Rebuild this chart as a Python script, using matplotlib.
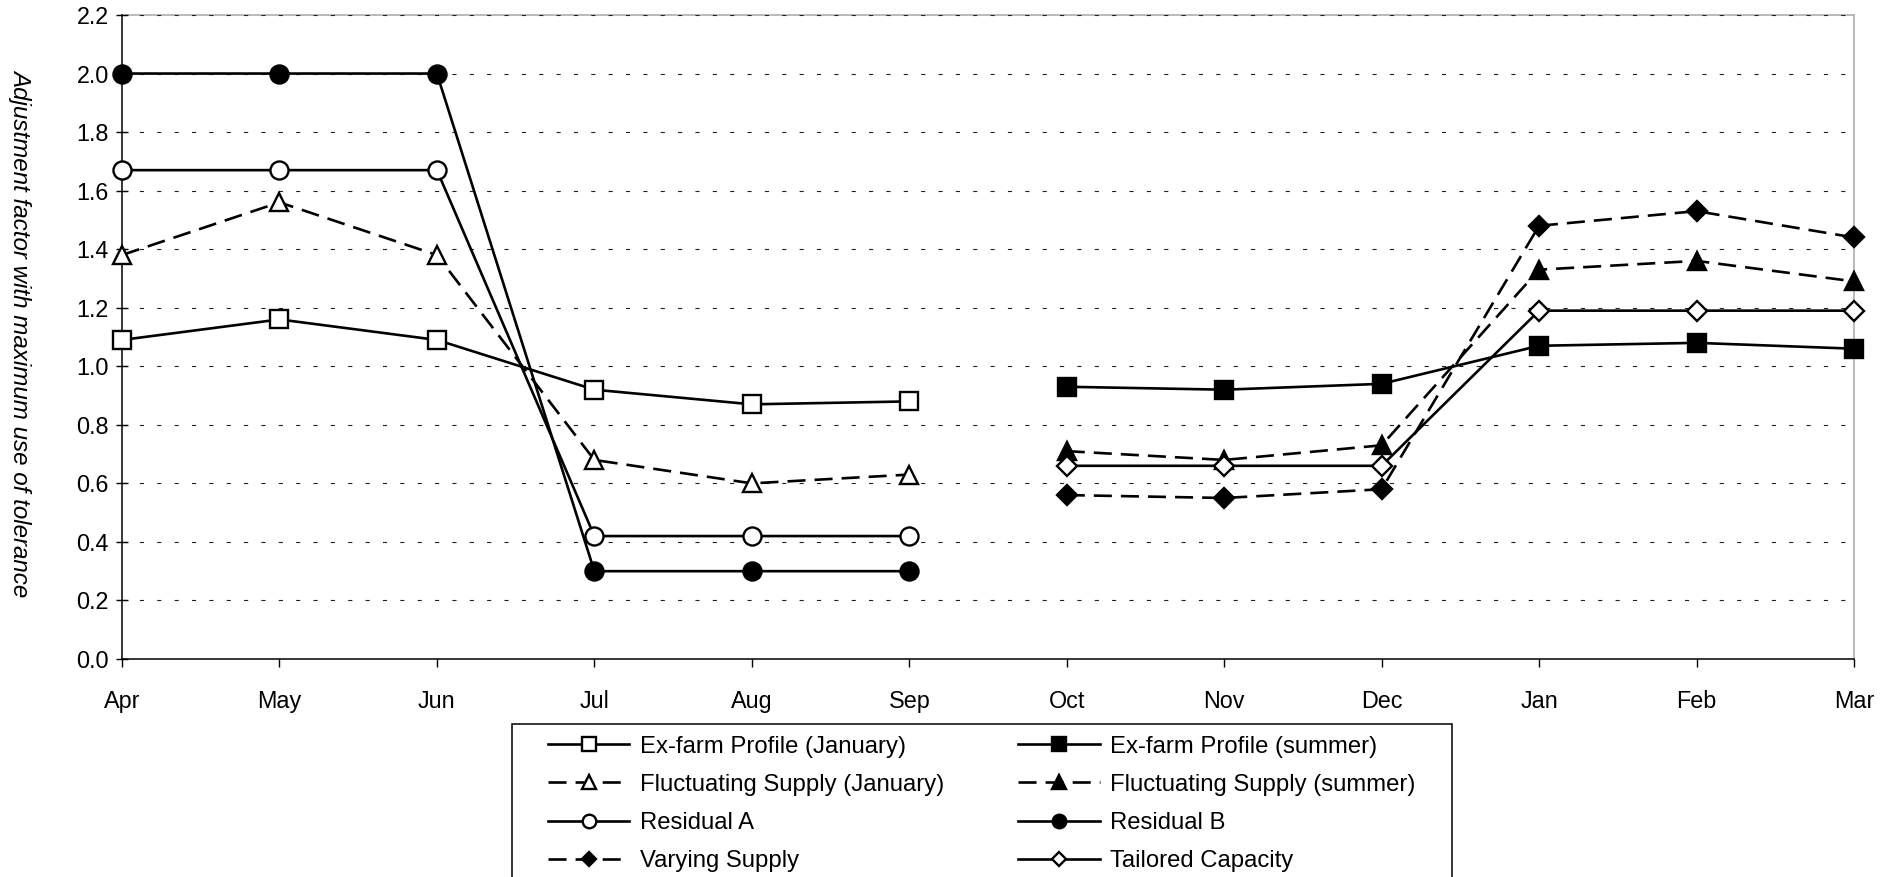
import numpy as np
import matplotlib
matplotlib.use("Agg")
import matplotlib.pyplot as plt
from matplotlib.patches import Rectangle

plt.rcParams['font.family'] = ['Liberation Sans', 'DejaVu Sans']
plt.rcParams['lines.scale_dashes'] = False

# months of the gas year, Apr .. Mar
months = ['Apr', 'May', 'Jun', 'Jul', 'Aug', 'Sep',
          'Oct', 'Nov', 'Dec', 'Jan', 'Feb', 'Mar']

# Apr - Sep series
exfarm_jan = [1.09, 1.16, 1.09, 0.92, 0.87, 0.88]
fluct_jan = [1.38, 1.56, 1.38, 0.68, 0.60, 0.63]
residual_a = [1.67, 1.67, 1.67, 0.42, 0.42, 0.42]
residual_b = [2.00, 2.00, 2.00, 0.30, 0.30, 0.30]

# Oct - Mar series
exfarm_summer = [0.93, 0.92, 0.94, 1.07, 1.08, 1.06]
fluct_summer = [0.71, 0.68, 0.73, 1.33, 1.36, 1.29]
varying = [0.56, 0.55, 0.58, 1.48, 1.53, 1.44]
tailored = [0.66, 0.66, 0.66, 1.19, 1.19, 1.19]

W, H = 1899, 877
fig = plt.figure(figsize=(W / 100, H / 100), dpi=100)
ax = fig.add_axes([122 / W, 1 - 659 / H, (1854 - 122) / W, (659 - 15) / H])

x = np.arange(len(months))
x1, x2 = x[:6], x[6:]

solid = '-'
dashed = (0, (13, 6.5))
lw = 1.9
mew = 1.7

series = [
    # label, x, y, linestyle, marker, facecolor, size
    ('Ex-farm Profile (January)', x1, exfarm_jan, solid, 's', 'white', 13),
    ('Fluctuating Supply (January)', x1, fluct_jan, dashed, '^', 'white', 13),
    ('Residual A', x1, residual_a, solid, 'o', 'white', 13),
    ('Varying Supply', x2, varying, dashed, 'D', 'black', 9.8),
    ('Ex-farm Profile (summer)', x2, exfarm_summer, solid, 's', 'black', 13.5),
    ('Fluctuating Supply (summer)', x2, fluct_summer, dashed, '^', 'black', 13),
    ('Residual B', x1, residual_b, solid, 'o', 'black', 13),
    ('Tailored Capacity', x2, tailored, solid, 'D', 'white', 9.8),
]

handles = []
for label, xs, ys, ls, mk, fc, ms in series:
    ln, = ax.plot(xs, ys, color='black', linestyle=ls, linewidth=lw,
                  marker=mk, markersize=ms, markerfacecolor=fc,
                  markeredgecolor='black', markeredgewidth=mew,
                  label=label, clip_on=False, zorder=3)
    handles.append(ln)

ax.set_xlim(0, 11)
ax.set_ylim(0, 2.2)
ax.set_xticks(x)
ax.set_xticklabels(months)
ax.set_yticks(np.arange(0, 2.21, 0.2))
ax.set_yticklabels([f'{v:.1f}' for v in np.arange(0, 2.21, 0.2)])

ax.yaxis.grid(True, color='#222222', linewidth=0.8, linestyle=(0, (3, 9.5)))
ax.set_axisbelow(True)

for side in ('left', 'bottom'):
    ax.spines[side].set_color('black')
    ax.spines[side].set_linewidth(1.1)
for side in ('top', 'right'):
    ax.spines[side].set_color('#b4b4b4')
    ax.spines[side].set_linewidth(1.3)
    ax.spines[side].set_zorder(0.5)

ax.tick_params(axis='y', direction='inout', length=9, width=1.0,
               labelsize=16.8, pad=5)
ax.tick_params(axis='x', direction='out', length=6, width=1.0,
               labelsize=16.8, pad=16)

fig.text(20.6 / W, 1 - 333 / H, 'Adjustment factor with maximum use of tolerance',
         rotation=-90, ha='center', va='center', style='italic', fontsize=17.4)

# legend frame runs off the bottom of the figure
fig.patches.append(Rectangle((512 / W, -0.02), (1452 - 512) / W, 1 - 724 / H + 0.02,
                             transform=fig.transFigure, fill=False,
                             edgecolor='black', linewidth=1.1))
leg = fig.legend(handles=handles, ncol=2, loc='upper left',
                 bbox_to_anchor=(548 / W, 1 - 735.5 / H), frameon=False,
                 fontsize=17.2, handlelength=3.4, handletextpad=0.45,
                 columnspacing=3.1, labelspacing=0.68, borderpad=0,
                 borderaxespad=0, markerscale=0.75)

fig.savefig('out.png', dpi=100)
